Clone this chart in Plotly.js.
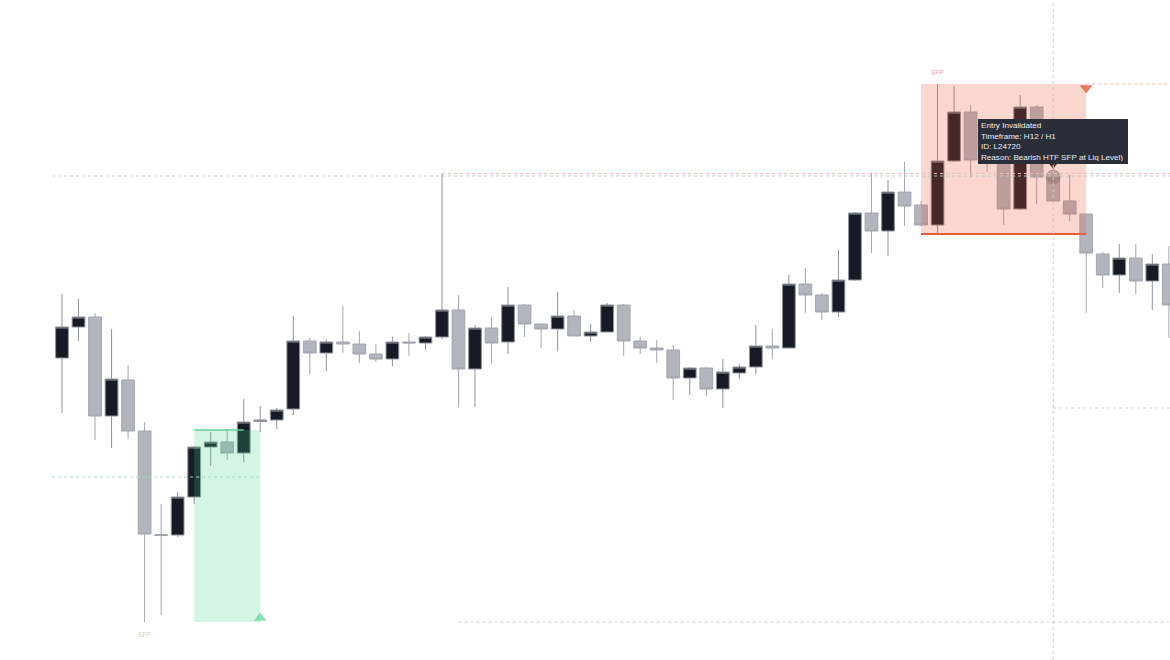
<!DOCTYPE html>
<html>
<head>
<meta charset="utf-8">
<script src="https://cdn.plot.ly/plotly-3.0.1.min.js"></script>
<style>
  html, body { margin: 0; padding: 0; background: #ffffff; }
  #chart { width: 1170px; height: 660px; }
</style>
</head>
<body>
<div id="chart"></div>
<script>
// ---- Candle data (bar index, price units) ----
const barIndex = [0,1,2,3,4,5,6,7,8,9,10,11,12,13,14,15,16,17,18,19,20,21,22,23,24,25,26,27,28,29,30,31,32,33,34,35,36,37,38,39,40,41,42,43,44,45,46,47,48,49,50,51,52,53,54,55,56,57,58,59,60,61,62,63,64,65,66,67];
const openPrice  = [302,333,343,244,280,229,125.5,125,163,213,218,207,238.5,240,251,319,307,318,316,306,301,318,317,323,350,291,332,318,355,336,331,344,324,328,355,319,312,310,282,292,271,287,293,314,312,376,365,348,380,447,429,468,455,435,499,548,530,500,451,553,483,459,446,406,385,402,379,396];
const highPrice  = [366,361,347,331,295,238,156,168,214,228,231,261,254,252,344,322,320,354,329,316,323,327,324,486,365,335,343,373,356,336,368,350,336,357,356,323,320,315,293,293,301,296,335,331,385,392,367,410,448,487,480,498,459,576,574,555,538,510,565,555,483,485,446,408,416,416,406,414];
const lowPrice   = [247,319,220,212,221,38,45,123,156,194,200,198,228,231,245,286,289,307,297,298,294,304,310,321,253,253,296,306,323,312,309,324,318,328,304,306,297,260,265,264,252,281,286,301,312,347,340,343,379,407,404,434,434,426,498,483,488,435,450,456,458,439,347,372,367,366,350,322];
const closePrice = [333,343,244,281,229,126,124.5,163,213,218,207,238,240,250,319,307,318,316,306,301,318,317,323,350,291,332,317,355,336,331,344,324,328,355,319,312,310,282,292,271,288,293,314,312,376,365,348,380,447,429,468,454,435,499,548,500,502,451,553,483,459,446,407,385,402,379,396,355];

// ---- Setup zones / levels ----
const shortZoneBars  = [52, 62];     // bearish SFP zone (start, end bar)
const shortZonePrice = [426, 576];   // low, high of SFP candle
const longZoneBars   = [8, 12];
const longZonePrice  = [38, 230];
const longEntryBars  = [8, 11];
const liqLevelPrice  = 484;          // dashed liquidity level
const liqLevelStart  = -0.6;
const sweptHighBar   = 23;
const sweptHighPrice = 486.5;
const crossBar       = 60;
const crossPrice     = 252;
const lowLevelBar    = 24;
const lowLevelPrice  = 38;
const longMidPrice   = 183;
const invalidPoint   = [60, 483];
const shortMarker    = [62, 572];
const longMarker     = [12, 42];
const sfpLabels      = ["SFP", "SFP"];
const sfpLabelBars   = [53, 5];
const sfpLabelPrice  = [588, 26];
const tooltipLines   = ["Entry Invalidated", "Timeframe: H12 / H1", "ID: L24720", "Reason: Bearish HTF SFP at Liq Level)"];

const X_MIN = -3.753, X_MAX = 67.07;

const traces = [
  {
    type: 'candlestick',
    x: barIndex, open: openPrice, high: highPrice, low: lowPrice, close: closePrice,
    increasing: { fillcolor: '#161a25', line: { color: '#8f929a', width: 1 } },
    decreasing: { fillcolor: '#b2b5be', line: { color: '#a3a6ae', width: 1 } },
    whiskerwidth: 0,
    hoverinfo: 'skip'
  },
  {
    type: 'scatter', mode: 'markers',
    x: [invalidPoint[0]], y: [invalidPoint[1]],
    marker: { symbol: 'circle', size: 15, color: 'rgba(130,130,135,0.6)' },
    hoverinfo: 'skip'
  },
  {
    type: 'scatter', mode: 'markers',
    x: [shortMarker[0]], y: [shortMarker[1]],
    marker: { symbol: 'triangle-down', size: 11, color: '#e98060' },
    hoverinfo: 'skip'
  },
  {
    type: 'scatter', mode: 'markers',
    x: [longMarker[0]], y: [longMarker[1]],
    marker: { symbol: 'triangle-up', size: 11, color: '#8fe3b3' },
    hoverinfo: 'skip'
  },
  {
    type: 'scatter', mode: 'markers',
    x: [invalidPoint[0]], y: [494.5],
    marker: { symbol: 'triangle-down', size: 7, color: '#2a2e39' },
    hoverinfo: 'skip'
  }
];

const shapes = [
  // bearish zone
  { type: 'rect', layer: 'above', xref: 'x', yref: 'y',
    x0: shortZoneBars[0], x1: shortZoneBars[1], y0: shortZonePrice[0], y1: shortZonePrice[1],
    fillcolor: 'rgba(232,88,52,0.24)', line: { width: 0 } },
  { type: 'line', layer: 'above', x0: shortZoneBars[0], x1: shortZoneBars[1], y0: shortZonePrice[0], y1: shortZonePrice[0],
    line: { color: '#e5603a', width: 2 } },
  // bullish zone
  { type: 'rect', layer: 'above', xref: 'x', yref: 'y',
    x0: longZoneBars[0], x1: longZoneBars[1], y0: longZonePrice[0], y1: longZonePrice[1],
    fillcolor: 'rgba(60,210,130,0.22)', line: { width: 0 } },
  { type: 'line', layer: 'above', x0: longEntryBars[0], x1: longEntryBars[1], y0: longZonePrice[1], y1: longZonePrice[1],
    line: { color: '#63cf93', width: 1.5 } },
  // levels
  { type: 'line', layer: 'above', x0: shortZoneBars[1], x1: X_MAX, y0: shortZonePrice[1], y1: shortZonePrice[1],
    line: { color: '#e6bcb1', width: 1, dash: 'dot' } },
  { type: 'line', layer: 'above', x0: sweptHighBar, x1: X_MAX, y0: sweptHighPrice, y1: sweptHighPrice,
    line: { color: '#e9c0b6', width: 1, dash: 'dot' } },
  { type: 'line', layer: 'above', x0: liqLevelStart, x1: X_MAX, y0: liqLevelPrice, y1: liqLevelPrice,
    line: { color: '#c3c5cb', width: 1, dash: '3px,3px' } },
  { type: 'line', layer: 'above', x0: crossBar, x1: X_MAX, y0: crossPrice, y1: crossPrice,
    line: { color: '#d0d2d7', width: 1, dash: 'dot' } },
  { type: 'line', layer: 'above', x0: lowLevelBar, x1: X_MAX, y0: lowLevelPrice, y1: lowLevelPrice,
    line: { color: '#cfd1d6', width: 1, dash: 'dot' } },
  { type: 'line', layer: 'above', x0: liqLevelStart, x1: longZoneBars[1], y0: longMidPrice, y1: longMidPrice,
    line: { color: '#a9d9c6', width: 1, dash: 'dot' } },
  { type: 'line', layer: 'above', xref: 'x', yref: 'paper', x0: crossBar, x1: crossBar, y0: 0, y1: 1,
    line: { color: '#c9cbd0', width: 1, dash: 'dot' } }
];

const annotations = [
  { x: sfpLabelBars[0], y: sfpLabelPrice[0], text: sfpLabels[0], showarrow: false,
    font: { family: 'Liberation Sans, Arial, sans-serif', size: 6.5, color: '#eea594' } },
  { x: sfpLabelBars[1], y: sfpLabelPrice[1], text: sfpLabels[1], showarrow: false,
    font: { family: 'Liberation Sans, Arial, sans-serif', size: 6.5, color: '#c6d6cc' } },
  { x: invalidPoint[0], y: 496, xanchor: 'center', yanchor: 'bottom',
    text: tooltipLines.join('<br>'), showarrow: false, align: 'left',
    width: 144, height: 39, borderpad: 2, borderwidth: 1,
    bgcolor: '#2a2e39', bordercolor: '#2a2e39',
    font: { family: 'Liberation Sans, Arial, sans-serif', size: 8.1, color: '#eceef2' } }
];

const layout = {
  width: 1170, height: 660,
  margin: { l: 0, r: 0, t: 0, b: 0, pad: 0 },
  paper_bgcolor: '#ffffff', plot_bgcolor: '#ffffff',
  showlegend: false, hovermode: false,
  boxgap: 0.23, boxgroupgap: 0,
  xaxis: { range: [X_MIN, X_MAX], visible: false, showgrid: false, zeroline: false,
           rangeslider: { visible: false }, fixedrange: true },
  yaxis: { range: [0, 660], visible: false, showgrid: false, zeroline: false, fixedrange: true },
  shapes: shapes,
  annotations: annotations
};

Plotly.newPlot('chart', traces, layout, { staticPlot: true, displayModeBar: false });
</script>
</body>
</html>
